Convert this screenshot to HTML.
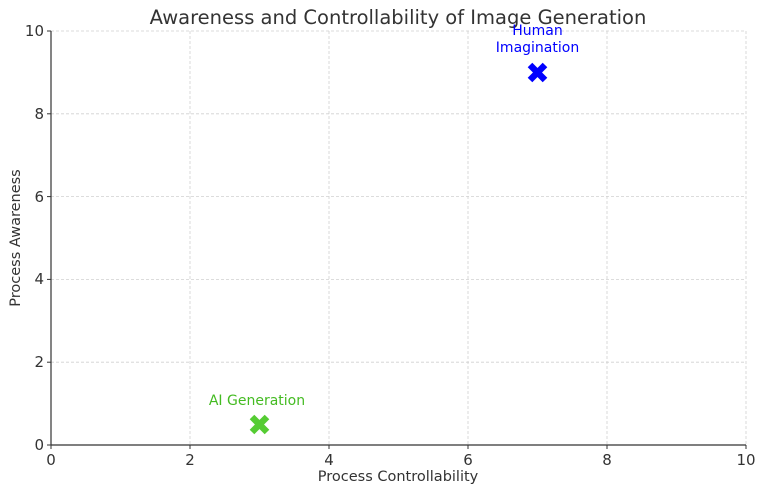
<!DOCTYPE html>
<html><head><style>body{margin:0;background:#fff}</style></head><body>
<svg width="764" height="490" xmlns="http://www.w3.org/2000/svg" font-family="DejaVu Sans, Liberation Sans, sans-serif">
<g stroke="#d0d0d0" stroke-width="0.8" stroke-dasharray="3,2">
<line x1="190" y1="31" x2="190" y2="445"/><line x1="329" y1="31" x2="329" y2="445"/><line x1="468" y1="31" x2="468" y2="445"/><line x1="607" y1="31" x2="607" y2="445"/><line x1="746" y1="31" x2="746" y2="445"/>
<line x1="51" y1="362.2" x2="746" y2="362.2"/><line x1="51" y1="279.4" x2="746" y2="279.4"/><line x1="51" y1="196.6" x2="746" y2="196.6"/><line x1="51" y1="113.8" x2="746" y2="113.8"/><line x1="51" y1="31" x2="746" y2="31"/>
</g>
<g stroke="#333" stroke-width="1.2"><line x1="51" y1="31" x2="51" y2="445"/><line x1="51" y1="445" x2="746" y2="445"/>
<g stroke-width="1"><line x1="51" y1="445" x2="51" y2="449"/><line x1="190" y1="445" x2="190" y2="449"/><line x1="329" y1="445" x2="329" y2="449"/><line x1="468" y1="445" x2="468" y2="449"/><line x1="607" y1="445" x2="607" y2="449"/><line x1="746" y1="445" x2="746" y2="449"/>
<line x1="47" y1="445" x2="51" y2="445"/><line x1="47" y1="362.2" x2="51" y2="362.2"/><line x1="47" y1="279.4" x2="51" y2="279.4"/><line x1="47" y1="196.6" x2="51" y2="196.6"/><line x1="47" y1="113.8" x2="51" y2="113.8"/><line x1="47" y1="31" x2="51" y2="31"/></g></g>
<g font-size="15" fill="#333" text-anchor="middle">
<text x="51" y="465">0</text><text x="190" y="465">2</text><text x="329" y="465">4</text><text x="468" y="465">6</text><text x="607" y="465">8</text><text x="746" y="465">10</text>
</g>
<g font-size="15" fill="#333" text-anchor="end">
<text x="44" y="450">0</text><text x="44" y="367">2</text><text x="44" y="284">4</text><text x="44" y="202">6</text><text x="44" y="119">8</text><text x="44" y="36">10</text>
</g>
<text x="398" y="24" font-size="19.5" fill="#333" text-anchor="middle">Awareness and Controllability of Image Generation</text>
<text x="398" y="481" font-size="14.5" fill="#333" text-anchor="middle">Process Controllability</text>
<text transform="translate(20,238) rotate(-90)" font-size="14.5" fill="#333" text-anchor="middle">Process Awareness</text>
<g stroke-linecap="butt" stroke-width="6.5">
<path d="M530 65L545 80M545 65L530 80" stroke="#0000ff"/>
<path d="M252 417L267 432M267 417L252 432" stroke="#55cc33"/>
</g>
<g font-size="14" text-anchor="middle">
<text x="537.5" y="35" fill="#0000ff">Human</text><text x="537.5" y="52" fill="#0000ff">Imagination</text>
<text x="257" y="405" fill="#44bb22">AI Generation</text>
</g>
</svg>
</body></html>
